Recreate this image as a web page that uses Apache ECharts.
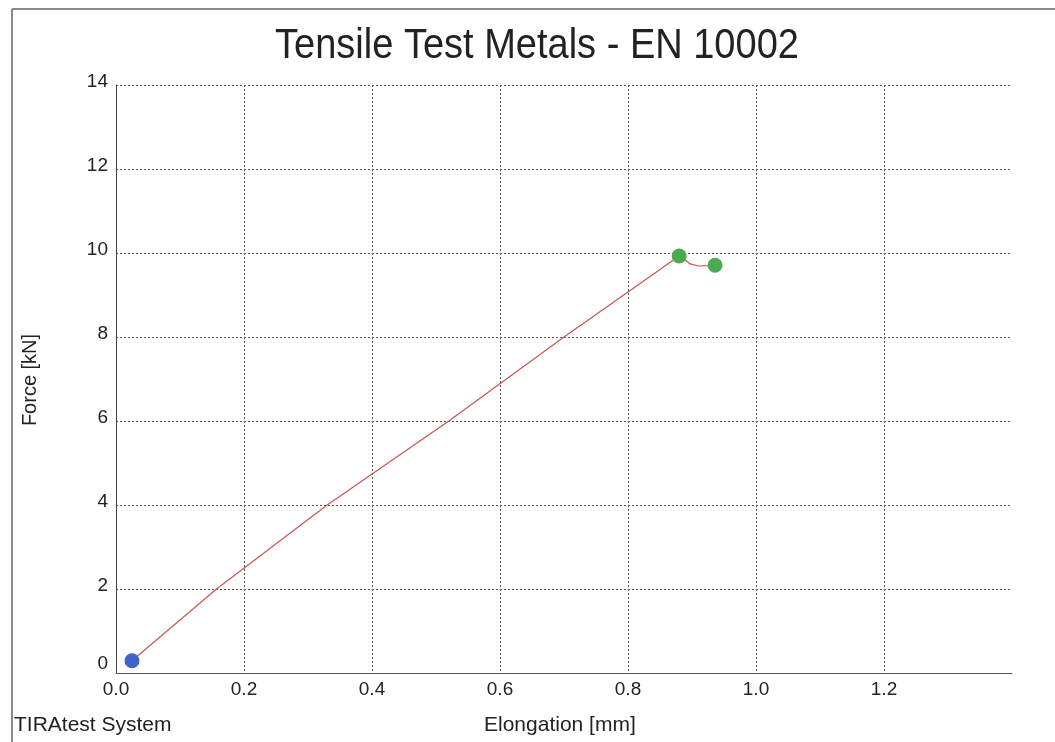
<!DOCTYPE html>
<html>
<head>
<meta charset="utf-8">
<script src="https://cdn.jsdelivr.net/npm/echarts@6/dist/echarts.min.js"></script>
<style>
html,body{margin:0;padding:0;background:#fff;}
#chart{width:1055px;height:742px;}
</style>
</head>
<body>
<div id="chart"></div>
<script>
// Elongation [mm] and Force [kN] of the measured curve
const elongation = [0.025, 0.157, 0.33, 0.52, 0.70, 0.88, 0.888, 0.897, 0.91, 0.925, 0.936];
const force      = [0.29,  2.0,   4.0,  6.0,  8.0,  9.93, 9.85,  9.74,  9.69,  9.70,  9.71];
const startPoint = [[0.025, 0.29]];
const keyPoints  = [[0.88, 9.93], [0.936, 9.71]];
const xTicks = [0.0, 0.2, 0.4, 0.6, 0.8, 1.0, 1.2];
const yTicks = [0, 2, 4, 6, 8, 10, 12, 14];

const curve = elongation.map((x, i) => [x, force[i]]);
const font = 'Liberation Sans, Arial, sans-serif';

const chart = echarts.init(document.getElementById('chart'));
chart.setOption({
  animation: false,
  backgroundColor: '#fff',
  grid: {left: 116, top: 85, right: 43, bottom: 69, containLabel: false},
  xAxis: {
    type: 'value', min: 0, max: 1.4, interval: 0.2,
    axisLine: {show: true, lineStyle: {color: '#555', width: 1}},
    axisTick: {show: false},
    axisLabel: {
      fontFamily: font, fontSize: 19, color: '#222', margin: 7,
      showMaxLabel: false,
      formatter: v => xTicks.some(t => Math.abs(t - v) < 1e-9) ? v.toFixed(1) : ''
    },
    splitLine: {show: true, showMinLine: false, showMaxLine: false,
      lineStyle: {type: [2, 2], color: '#555', width: 1}}
  },
  yAxis: {
    type: 'value', min: 0, max: 14, interval: 2,
    axisLine: {show: true, onZero: false, lineStyle: {color: '#444', width: 1}},
    axisTick: {show: false},
    axisLabel: {fontFamily: font, fontSize: 19, color: '#222', margin: 8,
      formatter: v => !yTicks.includes(v) ? '' : (v === 0 ? '{z|0}' : '{n|' + v + '}'),
      rich: {
        n: {fontFamily: font, fontSize: 19, color: '#222', padding: [0, 0, 6, 0]},
        z: {fontFamily: font, fontSize: 19, color: '#222', padding: [0, 0, 18, 0]}
      }},
    splitLine: {show: true, lineStyle: {type: [2, 2], color: '#555', width: 1}}
  },
  graphic: [
    {type: 'text', x: 537, y: 46, scaleY: 1.1,
      style: {text: 'Tensile Test Metals - EN 10002', font: '38px ' + font, fill: '#222',
        align: 'center', verticalAlign: 'middle'}},
    {type: 'text', left: 14, top: 715,
      style: {text: 'TIRAtest System', font: '21px ' + font, fill: '#222'}},
    {type: 'text', left: 484, top: 715,
      style: {text: 'Elongation [mm]', font: '21px ' + font, fill: '#222'}},
    {type: 'text', x: 30, y: 380, rotation: Math.PI / 2,
      style: {text: 'Force [kN]', font: '20px ' + font, fill: '#222', align: 'center', verticalAlign: 'middle'}},
    {type: 'line', shape: {x1: 12, y1: 9, x2: 1055, y2: 9}, style: {stroke: '#666', lineWidth: 1.5}},
    {type: 'line', shape: {x1: 12, y1: 9, x2: 12, y2: 742}, style: {stroke: '#666', lineWidth: 1.5}}
  ],
  series: [
    {type: 'line', data: curve, symbol: 'none', smooth: false,
      lineStyle: {color: '#c4574e', width: 1.2}, z: 2},
    {type: 'scatter', data: startPoint, symbolSize: 15,
      itemStyle: {color: '#3f63c6', opacity: 1}, z: 3},
    {type: 'scatter', data: keyPoints, symbolSize: 15,
      itemStyle: {color: '#4caa52', opacity: 1}, z: 3}
  ]
});
</script>
</body>
</html>
